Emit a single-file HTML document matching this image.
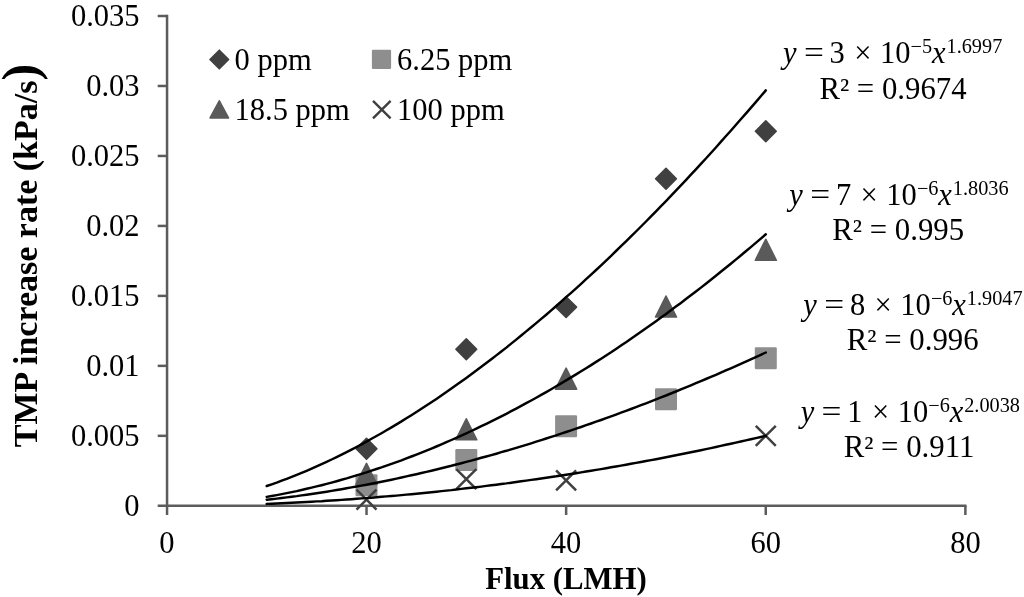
<!DOCTYPE html>
<html lang="en"><head><meta charset="utf-8"><title>TMP increase rate vs Flux</title>
<style>html,body{margin:0;padding:0;background:#fff}svg{display:block}text{font-family:"Liberation Serif","Times New Roman",serif;fill:#000}</style>
</head><body>
<svg width="1024" height="597" viewBox="0 0 1024 597">
<rect width="1024" height="597" fill="#fff"/>
<g stroke="#5c5c5c" stroke-width="2.5" fill="none" stroke-linecap="butt">
<line x1="167.05" y1="14.8" x2="167.05" y2="515"/>
<line x1="157.7" y1="505.8" x2="966.5" y2="505.8"/>
<line x1="157.7" y1="435.83" x2="166.9" y2="435.83"/>
<line x1="157.7" y1="365.86" x2="166.9" y2="365.86"/>
<line x1="157.7" y1="295.89" x2="166.9" y2="295.89"/>
<line x1="157.7" y1="225.92" x2="166.9" y2="225.92"/>
<line x1="157.7" y1="155.95" x2="166.9" y2="155.95"/>
<line x1="157.7" y1="85.98" x2="166.9" y2="85.98"/>
<line x1="157.7" y1="16.01" x2="166.9" y2="16.01"/>
<line x1="366.52" y1="505.8" x2="366.52" y2="515"/>
<line x1="566.14" y1="505.8" x2="566.14" y2="515"/>
<line x1="765.76" y1="505.8" x2="765.76" y2="515"/>
<line x1="965.38" y1="505.8" x2="965.38" y2="515"/>
</g>
<g font-size="30.5" text-anchor="end">
<text x="139.6" y="516.2">0</text>
<text x="139.6" y="446.2">0.005</text>
<text x="139.6" y="376.3">0.01</text>
<text x="139.6" y="306.3">0.015</text>
<text x="139.6" y="236.3">0.02</text>
<text x="139.6" y="166.3">0.025</text>
<text x="139.6" y="96.4">0.03</text>
<text x="139.6" y="26.4">0.035</text>
</g>
<g font-size="30.5" text-anchor="middle">
<text x="166.9" y="553.3">0</text>
<text x="366.5" y="553.3">20</text>
<text x="566.1" y="553.3">40</text>
<text x="765.8" y="553.3">60</text>
<text x="965.4" y="553.3">80</text>
</g>
<text x="566" y="588.7" font-size="30.8" font-weight="bold" text-anchor="middle">Flux (LMH)</text>
<text transform="translate(36.9,447.2) rotate(-90)" font-size="34" font-weight="bold">TMP increase rate (kPa/s<tspan font-size="50">)</tspan></text>
<g>
<path d="M366.5 438.4L376.9 448.8L366.5 459.2L356.1 448.8Z" fill="#404040" stroke="#404040" stroke-width="1.6" stroke-linejoin="round"/>
<path d="M466.3 338.9L476.7 349.3L466.3 359.7L455.9 349.3Z" fill="#404040" stroke="#404040" stroke-width="1.6" stroke-linejoin="round"/>
<path d="M566.1 296.7L576.5 307.1L566.1 317.5L555.7 307.1Z" fill="#404040" stroke="#404040" stroke-width="1.6" stroke-linejoin="round"/>
<path d="M666.0 168.4L676.4 178.8L666.0 189.2L655.6 178.8Z" fill="#404040" stroke="#404040" stroke-width="1.6" stroke-linejoin="round"/>
<path d="M765.8 120.9L776.2 131.3L765.8 141.7L755.4 131.3Z" fill="#404040" stroke="#404040" stroke-width="1.6" stroke-linejoin="round"/>
<rect x="355.5" y="474.2" width="22.0" height="22.0" rx="1.2" fill="#8e8e8e"/>
<rect x="455.3" y="449.0" width="22.0" height="22.0" rx="1.2" fill="#8e8e8e"/>
<rect x="555.1" y="415.2" width="22.0" height="22.0" rx="1.2" fill="#8e8e8e"/>
<rect x="655.0" y="388.3" width="22.0" height="22.0" rx="1.2" fill="#8e8e8e"/>
<rect x="754.8" y="347.3" width="22.0" height="22.0" rx="1.2" fill="#8e8e8e"/>
<path d="M366.5 463.4L377.0 484.4L356.0 484.4Z" fill="#5a5a5a" stroke="#5a5a5a" stroke-width="1.6" stroke-linejoin="round"/>
<path d="M466.3 418.8L476.8 439.8L455.8 439.8Z" fill="#5a5a5a" stroke="#5a5a5a" stroke-width="1.6" stroke-linejoin="round"/>
<path d="M566.1 368.2L576.6 389.2L555.6 389.2Z" fill="#5a5a5a" stroke="#5a5a5a" stroke-width="1.6" stroke-linejoin="round"/>
<path d="M666.0 296.0L676.5 317.0L655.5 317.0Z" fill="#5a5a5a" stroke="#5a5a5a" stroke-width="1.6" stroke-linejoin="round"/>
<path d="M765.8 239.3L776.3 260.3L755.3 260.3Z" fill="#5a5a5a" stroke="#5a5a5a" stroke-width="1.6" stroke-linejoin="round"/>
<path d="M356.5 489.6L376.5 509.6M356.5 509.6L376.5 489.6" stroke="#404040" stroke-width="2.5" fill="none"/>
<path d="M456.3 469.2L476.3 489.2M456.3 489.2L476.3 469.2" stroke="#404040" stroke-width="2.5" fill="none"/>
<path d="M556.1 470.3L576.1 490.3M556.1 490.3L576.1 470.3" stroke="#404040" stroke-width="2.5" fill="none"/>
<path d="M755.8 425.8L775.8 445.8M755.8 445.8L775.8 425.8" stroke="#404040" stroke-width="2.5" fill="none"/>
</g>
<g stroke="#000" stroke-width="2.45" fill="none" stroke-linecap="round" stroke-linejoin="round">
<path d="M266.7 486.0L271.7 484.3L276.7 482.6L281.7 480.7L286.7 478.9L291.7 476.9L296.7 474.9L301.6 472.9L306.6 470.8L311.6 468.6L316.6 466.4L321.6 464.2L326.6 461.9L331.6 459.5L336.6 457.1L341.6 454.6L346.6 452.1L351.5 449.6L356.5 447.0L361.5 444.3L366.5 441.6L371.5 438.8L376.5 436.0L381.5 433.2L386.5 430.3L391.5 427.4L396.5 424.4L401.5 421.4L406.4 418.3L411.4 415.2L416.4 412.0L421.4 408.8L426.4 405.5L431.4 402.2L436.4 398.9L441.4 395.5L446.4 392.1L451.4 388.6L456.3 385.1L461.3 381.5L466.3 377.9L471.3 374.3L476.3 370.6L481.3 366.8L486.3 363.1L491.3 359.3L496.3 355.4L501.3 351.5L506.3 347.6L511.2 343.6L516.2 339.6L521.2 335.5L526.2 331.4L531.2 327.3L536.2 323.1L541.2 318.9L546.2 314.7L551.2 310.4L556.2 306.0L561.1 301.7L566.1 297.2L571.1 292.8L576.1 288.3L581.1 283.8L586.1 279.2L591.1 274.6L596.1 270.0L601.1 265.3L606.1 260.6L611.1 255.8L616.0 251.0L621.0 246.2L626.0 241.3L631.0 236.4L636.0 231.5L641.0 226.5L646.0 221.5L651.0 216.4L656.0 211.3L661.0 206.2L666.0 201.1L670.9 195.9L675.9 190.6L680.9 185.4L685.9 180.1L690.9 174.7L695.9 169.3L700.9 163.9L705.9 158.5L710.9 153.0L715.9 147.5L720.8 141.9L725.8 136.3L730.8 130.7L735.8 125.0L740.8 119.3L745.8 113.6L750.8 107.9L755.8 102.1L760.8 96.2L765.8 90.4"/>
<path d="M266.7 496.9L271.7 496.0L276.7 495.1L281.7 494.1L286.7 493.1L291.7 492.1L296.7 491.1L301.6 490.0L306.6 488.8L311.6 487.6L316.6 486.4L321.6 485.2L326.6 483.9L331.6 482.6L336.6 481.2L341.6 479.8L346.6 478.4L351.5 476.9L356.5 475.4L361.5 473.9L366.5 472.3L371.5 470.7L376.5 469.0L381.5 467.4L386.5 465.6L391.5 463.9L396.5 462.1L401.5 460.3L406.4 458.4L411.4 456.5L416.4 454.6L421.4 452.6L426.4 450.6L431.4 448.6L436.4 446.5L441.4 444.4L446.4 442.2L451.4 440.0L456.3 437.8L461.3 435.6L466.3 433.3L471.3 431.0L476.3 428.6L481.3 426.2L486.3 423.8L491.3 421.4L496.3 418.9L501.3 416.3L506.3 413.8L511.2 411.2L516.2 408.6L521.2 405.9L526.2 403.2L531.2 400.5L536.2 397.7L541.2 394.9L546.2 392.1L551.2 389.2L556.2 386.3L561.1 383.4L566.1 380.4L571.1 377.4L576.1 374.4L581.1 371.3L586.1 368.2L591.1 365.1L596.1 361.9L601.1 358.7L606.1 355.4L611.1 352.2L616.0 348.9L621.0 345.5L626.0 342.2L631.0 338.7L636.0 335.3L641.0 331.8L646.0 328.3L651.0 324.8L656.0 321.2L661.0 317.6L666.0 314.0L670.9 310.3L675.9 306.6L680.9 302.9L685.9 299.1L690.9 295.3L695.9 291.5L700.9 287.6L705.9 283.7L710.9 279.8L715.9 275.8L720.8 271.8L725.8 267.8L730.8 263.7L735.8 259.6L740.8 255.5L745.8 251.3L750.8 247.1L755.8 242.9L760.8 238.6L765.8 234.3"/>
<path d="M266.7 499.7L271.7 499.2L276.7 498.6L281.7 498.0L286.7 497.4L291.7 496.7L296.7 496.1L301.6 495.4L306.6 494.7L311.6 494.0L316.6 493.2L321.6 492.5L326.6 491.7L331.6 490.9L336.6 490.0L341.6 489.2L346.6 488.3L351.5 487.4L356.5 486.5L361.5 485.6L366.5 484.7L371.5 483.7L376.5 482.7L381.5 481.7L386.5 480.7L391.5 479.7L396.5 478.6L401.5 477.5L406.4 476.4L411.4 475.3L416.4 474.2L421.4 473.0L426.4 471.9L431.4 470.7L436.4 469.5L441.4 468.3L446.4 467.0L451.4 465.8L456.3 464.5L461.3 463.2L466.3 461.9L471.3 460.6L476.3 459.2L481.3 457.8L486.3 456.5L491.3 455.1L496.3 453.7L501.3 452.2L506.3 450.8L511.2 449.3L516.2 447.8L521.2 446.3L526.2 444.8L531.2 443.3L536.2 441.7L541.2 440.1L546.2 438.5L551.2 436.9L556.2 435.3L561.1 433.7L566.1 432.0L571.1 430.4L576.1 428.7L581.1 427.0L586.1 425.2L591.1 423.5L596.1 421.7L601.1 420.0L606.1 418.2L611.1 416.4L616.0 414.6L621.0 412.7L626.0 410.9L631.0 409.0L636.0 407.1L641.0 405.2L646.0 403.3L651.0 401.4L656.0 399.4L661.0 397.4L666.0 395.5L670.9 393.5L675.9 391.5L680.9 389.4L685.9 387.4L690.9 385.3L695.9 383.2L700.9 381.1L705.9 379.0L710.9 376.9L715.9 374.8L720.8 372.6L725.8 370.4L730.8 368.3L735.8 366.1L740.8 363.8L745.8 361.6L750.8 359.3L755.8 357.1L760.8 354.8L765.8 352.5"/>
<path d="M266.7 503.9L271.7 503.7L276.7 503.5L281.7 503.2L286.7 503.0L291.7 502.8L296.7 502.5L301.6 502.3L306.6 502.0L311.6 501.7L316.6 501.4L321.6 501.2L326.6 500.8L331.6 500.5L336.6 500.2L341.6 499.9L346.6 499.5L351.5 499.2L356.5 498.8L361.5 498.4L366.5 498.1L371.5 497.7L376.5 497.3L381.5 496.8L386.5 496.4L391.5 496.0L396.5 495.6L401.5 495.1L406.4 494.6L411.4 494.2L416.4 493.7L421.4 493.2L426.4 492.7L431.4 492.2L436.4 491.7L441.4 491.1L446.4 490.6L451.4 490.1L456.3 489.5L461.3 488.9L466.3 488.3L471.3 487.8L476.3 487.2L481.3 486.6L486.3 485.9L491.3 485.3L496.3 484.7L501.3 484.0L506.3 483.4L511.2 482.7L516.2 482.0L521.2 481.3L526.2 480.6L531.2 479.9L536.2 479.2L541.2 478.5L546.2 477.8L551.2 477.0L556.2 476.3L561.1 475.5L566.1 474.7L571.1 474.0L576.1 473.2L581.1 472.4L586.1 471.5L591.1 470.7L596.1 469.9L601.1 469.1L606.1 468.2L611.1 467.3L616.0 466.5L621.0 465.6L626.0 464.7L631.0 463.8L636.0 462.9L641.0 462.0L646.0 461.0L651.0 460.1L656.0 459.2L661.0 458.2L666.0 457.2L670.9 456.2L675.9 455.3L680.9 454.3L685.9 453.3L690.9 452.2L695.9 451.2L700.9 450.2L705.9 449.1L710.9 448.1L715.9 447.0L720.8 445.9L725.8 444.8L730.8 443.7L735.8 442.6L740.8 441.5L745.8 440.4L750.8 439.3L755.8 438.1L760.8 437.0L765.8 435.8"/>
</g>
<path d="M219.3 50.2L228.6 59.5L219.3 68.8L210.0 59.5Z" fill="#404040" stroke="#404040" stroke-width="1.6" stroke-linejoin="round"/>
<rect x="371.9" y="49.8" width="19.2" height="19.2" rx="1.2" fill="#8e8e8e"/>
<path d="M219.3 100.8L228.5 118.0L210.1 118.0Z" fill="#5a5a5a" stroke="#5a5a5a" stroke-width="1.6" stroke-linejoin="round"/>
<path d="M373.0 100.8L390.6 118.4M373.0 118.4L390.6 100.8" stroke="#404040" stroke-width="2.4" fill="none"/>
<g font-size="30.5">
<text x="234.5" y="70.1">0 ppm</text>
<text x="397" y="70.1">6.25 ppm</text>
<text x="234.5" y="120.4">18.5 ppm</text>
<text x="397" y="120.4">100 ppm</text>
</g>
<text font-size="30.5" y="62.6"><tspan x="783.0" font-style="italic">y</tspan><tspan x="803.9" textLength="19.9" lengthAdjust="spacingAndGlyphs">=</tspan><tspan x="829.6">3</tspan><tspan x="854.2">×</tspan><tspan x="880.0">10</tspan><tspan x="910.6" y="52.6" font-size="20.3">−5</tspan><tspan x="932.0" y="62.6" font-style="italic">x</tspan><tspan x="946.5" y="52.6" font-size="20.3">1.6997</tspan></text><text font-size="30.8" x="893" y="98.9" text-anchor="middle">R² = 0.9674</text>
<text font-size="30.5" y="204.7"><tspan x="789.3" font-style="italic">y</tspan><tspan x="810.2" textLength="19.9" lengthAdjust="spacingAndGlyphs">=</tspan><tspan x="835.9">7</tspan><tspan x="860.5">×</tspan><tspan x="886.3">10</tspan><tspan x="916.9" y="194.7" font-size="20.3">−6</tspan><tspan x="938.3" y="204.7" font-style="italic">x</tspan><tspan x="952.8" y="194.7" font-size="20.3">1.8036</tspan></text><text font-size="30.8" x="898.2" y="239.9" text-anchor="middle">R² = 0.995</text>
<text font-size="30.5" y="314.7"><tspan x="803.3" font-style="italic">y</tspan><tspan x="824.2" textLength="19.9" lengthAdjust="spacingAndGlyphs">=</tspan><tspan x="849.9">8</tspan><tspan x="874.5">×</tspan><tspan x="900.3">10</tspan><tspan x="930.9" y="304.7" font-size="20.3">−6</tspan><tspan x="952.3" y="314.7" font-style="italic">x</tspan><tspan x="966.8" y="304.7" font-size="20.3">1.9047</tspan></text><text font-size="30.8" x="912.7" y="349.9" text-anchor="middle">R² = 0.996</text>
<text font-size="30.5" y="422.2"><tspan x="800.7" font-style="italic">y</tspan><tspan x="821.6" textLength="19.9" lengthAdjust="spacingAndGlyphs">=</tspan><tspan x="847.3">1</tspan><tspan x="871.9">×</tspan><tspan x="897.7">10</tspan><tspan x="928.3" y="412.2" font-size="20.3">−6</tspan><tspan x="949.7" y="422.2" font-style="italic">x</tspan><tspan x="964.2" y="412.2" font-size="20.3">2.0038</tspan></text><text font-size="30.8" x="909" y="457.4" text-anchor="middle">R² = 0.911</text>
</svg></body></html>
